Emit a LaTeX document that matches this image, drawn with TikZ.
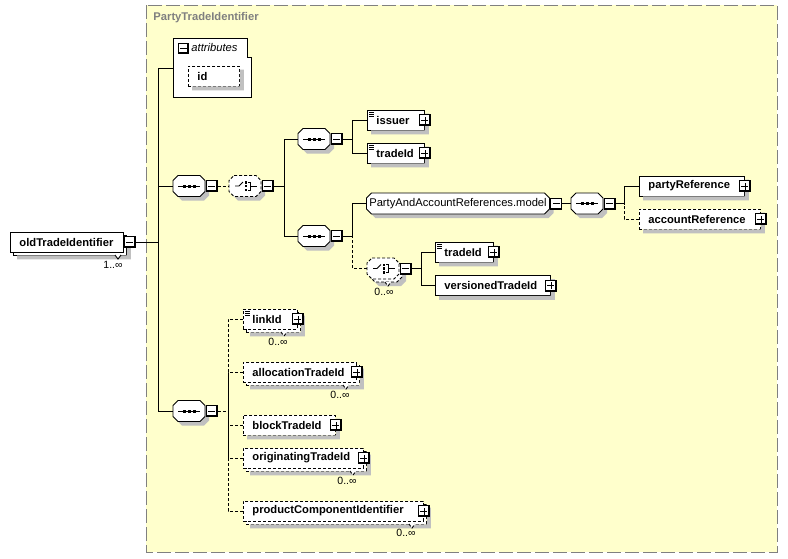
\documentclass[tikz,border=0pt]{standalone}
\usepackage{fontspec}
\setmainfont{Liberation Sans}
\usetikzlibrary{positioning,calc}

\definecolor{typefill}{RGB}{255,255,204}
\definecolor{typeline}{RGB}{128,128,128}
\definecolor{shadowgray}{RGB}{192,192,192}

\begin{document}
\begin{tikzpicture}[
    x=1pt, y=-1pt,
    line width=0.9pt,
    font=\fontsize{11.2}{13}\selectfont,
    opt/.style={dash pattern=on 3pt off 2pt},
    shadowfill/.style={fill=shadowgray},
    backcopy/.style={preaction={draw, fill=white, transform canvas={shift={(3pt,-3pt)}}}},
    elem/.style={draw, fill=white, anchor=west, font=\fontsize{11.2}{13}\selectfont\bfseries,
        minimum height=20pt, inner xsep=9pt, inner ysep=0pt, align=left},
    single/.style={elem},
    multi/.style={elem, backcopy},
    texticon/.style={path picture={
        \draw[solid, line width=0.7pt] ([shift={(2pt,-2.5pt)}]path picture bounding box.north west) -- ++(5pt,0pt);
        \draw[solid, line width=0.7pt] ([shift={(2pt,-4.5pt)}]path picture bounding box.north west) -- ++(5pt,0pt);
        \draw[solid, line width=0.7pt] ([shift={(2pt,-6.5pt)}]path picture bounding box.north west) -- ++(5pt,0pt);}},
    pmbox/.style={draw, fill=white, minimum size=11pt, inner sep=0pt, line width=0.8pt},
    plusbox/.style={pmbox, path picture={
        \draw[line width=2.4pt] (path picture bounding box.north east) -- (path picture bounding box.south east) -- (path picture bounding box.south west);
        \draw[line width=0.8pt] ([xshift=-3.5pt]path picture bounding box.center) -- ++(7pt,0pt);
        \draw[line width=0.8pt] ([yshift=-3.5pt]path picture bounding box.center) -- ++(0pt,7pt);}},
    minusbox/.style={pmbox, path picture={
        \draw[line width=2.4pt] (path picture bounding box.north east) -- (path picture bounding box.south east) -- (path picture bounding box.south west);
        \draw[line width=0.8pt] ([xshift=-3.5pt]path picture bounding box.center) -- ++(7pt,0pt);}},
    pics/octo/.style={code={
        \path[pic actions] (-#1+5,-10.5) -- (#1-5,-10.5) -- (#1,-5.5) -- (#1,5.5) -- (#1-5,10.5)
            -- (-#1+5,10.5) -- (-#1,5.5) -- (-#1,-5.5) -- cycle;}},
    pics/lshade/.style n args={3}{code={
        \path[fill=shadowgray, draw=none] ([shift={(#2,-#3)}]#1.north east) -- ([shift={(#3,-#3)}]#1.north east)
            -- ([shift={(#3,-#3)}]#1.south east) -- ([shift={(#3,-#3)}]#1.south west)
            -- ([shift={(#3,-#2)}]#1.south west) -- ([shift={(#2,-#2)}]#1.south east) -- cycle;}},
    compnode/.style={minimum width=32pt, minimum height=21pt, inner sep=0pt},
    seqsym/.style={compnode, path picture={
        \draw ([xshift=-11pt]path picture bounding box.center) -- ++(22pt,0pt);
        \fill[black] ([shift={(-6.5pt,-1.5pt)}]path picture bounding box.center) rectangle ++(3pt,3pt);
        \fill[black] ([shift={(-1.5pt,-1.5pt)}]path picture bounding box.center) rectangle ++(3pt,3pt);
        \fill[black] ([shift={(3.5pt,-1.5pt)}]path picture bounding box.center) rectangle ++(3pt,3pt);}},
    choicesym/.style={compnode, path picture={
        \draw ([xshift=-10pt]path picture bounding box.center) -- ++(4pt,0pt) -- ++(4pt,4pt);
        \fill[black] ([shift={(-0.5pt,2.5pt)}]path picture bounding box.center) rectangle ++(2.5pt,2.5pt);
        \fill[black] ([shift={(-0.5pt,-1.25pt)}]path picture bounding box.center) rectangle ++(2.5pt,2.5pt);
        \fill[black] ([shift={(-0.5pt,-5pt)}]path picture bounding box.center) rectangle ++(2.5pt,2.5pt);
        \draw ([shift={(3pt,4pt)}]path picture bounding box.center) -- ++(2.5pt,0pt) -- ++(0pt,-8pt) -- ++(-2.5pt,0pt);
        \draw ([xshift=5.5pt]path picture bounding box.center) -- ++(6pt,0pt);}},
    mult/.style={font=\fontsize{10.5}{12}\selectfont, inner sep=0pt}
]
\useasboundingbox (0,0) rectangle (788,558);

% Complex type area
\draw[fill=typefill, draw=typeline, dash pattern=on 14pt off 4pt] (146,5) rectangle (777,552);
\node (ptitle) [anchor=west, inner sep=0pt, text=typeline, font=\fontsize{11.2}{13}\selectfont\bfseries] at (153,18) {PartyTradeIdentifier};

% Root element
\node (oldTI) [multi, text width=95pt] at (10,242) {oldTradeIdentifier};
\pic {lshade={oldTI}{3pt}{7pt}};
\node (oldTI-m) [minusbox, right=0pt of oldTI] {};
\node (oldTI-n) [mult] at (113,265) {1..∞};
\draw[fill=white] (115,255) -- (118,259) -- (121,255);

% Attributes
\draw[fill=white] (173,38) -- (247,38) -- (247,57) -- (251,57) -- (251,97) -- (173,97) -- cycle;
\node (attr-m) [minusbox, minimum size=10pt] at (183.5,48) {};
\node (attr-t) [anchor=west, inner sep=0pt, font=\fontsize{11.2}{13}\selectfont\itshape] at (191,47) {attributes};
\node (id) [single, opt, text width=33pt] at (188,76) {id};
\pic {lshade={id}{0pt}{4pt}};
\coordinate (attr-in) at (173,68);

% Sequence and choice
\pic[shadowfill] at (193,190) {octo=16};
\pic[draw, fill=white] at (189,186) {octo=16};
\node (seqA) [seqsym] at (189,186) {};
\node (seqA-m) [minusbox, right=0.5pt of seqA] {};
\pic[shadowfill] at (249,190) {octo=16};
\pic[draw, fill=white, opt] at (245,186) {octo=16};
\node (choiceA) [choicesym] at (245,186) {};
\node (choiceA-m) [minusbox, right=0.5pt of choiceA] {};

% Issuer branch
\pic[shadowfill] at (318,143) {octo=16};
\pic[draw, fill=white] at (314,139) {octo=16};
\node (seqB) [seqsym] at (314,139) {};
\node (seqB-m) [minusbox, right=0.5pt of seqB] {};
\node (issuer) [single, texticon, text width=39pt] at (367,120) {issuer};
\pic {lshade={issuer}{0pt}{4pt}};
\node (issuer-p) [plusbox] at (issuer.east) {};
\node (tradeIdA) [single, texticon, text width=39pt] at (367,153) {tradeId};
\pic {lshade={tradeIdA}{0pt}{4pt}};
\node (tradeIdA-p) [plusbox] at (tradeIdA.east) {};

% Party reference branch
\pic[shadowfill] at (318,240) {octo=16};
\pic[draw, fill=white] at (314,236) {octo=16};
\node (seqC) [seqsym] at (314,236) {};
\node (seqC-m) [minusbox, right=0.5pt of seqC] {};
\pic[shadowfill] at (462,207.5) {octo=91.5};
\pic[draw, fill=white] at (458,203.5) {octo=91.5};
\node (pacRef) [compnode, minimum width=183pt] at (458,203.5) {PartyAndAccountReferences.model};
\node (pacRef-m) [minusbox, right=0.5pt of pacRef] {};
\pic[shadowfill] at (591,207.5) {octo=16};
\pic[draw, fill=white] at (587,203.5) {octo=16};
\node (seqD) [seqsym] at (587,203.5) {};
\node (seqD-m) [minusbox, right=0.5pt of seqD] {};
\node (partyRef) [single, text width=87pt] at (639,186) {partyReference};
\pic {lshade={partyRef}{0pt}{4pt}};
\node (partyRef-p) [plusbox] at (partyRef.east) {};
\node (accountRef) [single, opt, text width=103pt] at (639,219) {accountReference};
\pic {lshade={accountRef}{0pt}{4pt}};
\node (accountRef-p) [plusbox] at (accountRef.east) {};

% Trade id choice
\pic[shadowfill] at (390,275.5) {octo=16};
\pic[draw, fill=white, opt] at (386,271.5) {octo=16};
\pic[draw, fill=white, opt] at (383,268.5) {octo=16};
\node (choiceB) [choicesym] at (383,268.5) {};
\node (choiceB-m) [minusbox, right=0.5pt of choiceB] {};
\node (choiceB-n) [mult] at (384,292) {0..∞};
\draw[fill=white, opt] (385,282) -- (388,286) -- (391,282);
\node (tradeIdB) [single, texticon, text width=40pt] at (435,252) {tradeId};
\pic {lshade={tradeIdB}{0pt}{4pt}};
\node (tradeIdB-p) [plusbox] at (tradeIdB.east) {};
\node (versionedTI) [single, text width=97pt] at (435,285.5) {versionedTradeId};
\pic {lshade={versionedTI}{0pt}{4pt}};
\node (versionedTI-p) [plusbox] at (versionedTI.east) {};

% Optional identifiers
\pic[shadowfill] at (193,415) {octo=16};
\pic[draw, fill=white] at (189,411) {octo=16};
\node (seqE) [seqsym] at (189,411) {};
\node (seqE-m) [minusbox, right=0.5pt of seqE] {};
\node (linkId) [multi, opt, texticon, text width=36pt] at (243,319) {linkId};
\pic {lshade={linkId}{3pt}{7pt}};
\node (linkId-p) [plusbox] at (linkId.east) {};
\node (linkId-n) [mult] at (278,342) {0..∞};
\draw[fill=white, opt] (281,332) -- (284,336) -- (287,332);
\node (allocTI) [multi, opt, text width=95pt] at (243,372) {allocationTradeId};
\pic {lshade={allocTI}{3pt}{7pt}};
\node (allocTI-p) [plusbox] at (allocTI.east) {};
\node (allocTI-n) [mult] at (340,395) {0..∞};
\draw[fill=white, opt] (343,385) -- (346,389) -- (349,385);
\node (blockTI) [single, opt, text width=74pt] at (243,425) {blockTradeId};
\pic {lshade={blockTI}{0pt}{4pt}};
\node (blockTI-p) [plusbox] at (blockTI.east) {};
\node (origTI) [multi, opt, text width=102pt] at (243,458) {originatingTradeId};
\pic {lshade={origTI}{3pt}{7pt}};
\node (origTI-p) [plusbox] at (origTI.east) {};
\node (origTI-n) [mult] at (347,481) {0..∞};
\draw[fill=white, opt] (350,471) -- (353,475) -- (356,471);
\node (prodCI) [multi, opt, text width=162pt] at (243,511) {productComponentIdentifier};
\pic {lshade={prodCI}{3pt}{7pt}};
\node (prodCI-p) [plusbox] at (prodCI.east) {};
\node (prodCI-n) [mult] at (406,533) {0..∞};
\draw[fill=white, opt] (409,524) -- (412,528) -- (415,524);

% Connectors
\coordinate (trunk) at (158,242);
\draw (oldTI-m.east) -- (trunk);
\draw (attr-in) -| (trunk);
\draw (seqA.west) -| (trunk);
\draw (seqE.west) -| (trunk);
\draw[opt] (seqA-m.east) -- (choiceA.west);

\coordinate (forkB) at (284,186);
\draw (choiceA-m.east) -- (forkB);
\draw (seqB.west) -| (forkB);
\draw (seqC.west) -| (forkB);

\coordinate (forkC) at (352,139);
\draw (seqB-m.east) -- (forkC);
\draw (issuer.west) -| (forkC);
\draw (tradeIdA.west) -| (forkC);

\coordinate (forkD) at (352,236);
\draw (seqC-m.east) -- (forkD);
\draw (pacRef.west) -| (forkD);
\draw[opt] (choiceB.west) -| (forkD);
\draw (pacRef-m.east) -- (seqD.west);

\coordinate (forkE) at (624,203.5);
\draw (seqD-m.east) -- (forkE);
\draw (partyRef.west) -| (forkE);
\draw[opt] (accountRef.west) -| (forkE);

\coordinate (forkF) at (421,268.5);
\draw (choiceB-m.east) -- (forkF);
\draw (tradeIdB.west) -| (forkF);
\draw (versionedTI.west) -| (forkF);

\coordinate (forkG) at (228,411);
\draw[opt] (seqE-m.east) -- (forkG);
\draw[opt] (linkId.west) -| (forkG);
\draw[opt] (allocTI.west) -| (forkG);
\draw[opt] (blockTI.west) -| (forkG);
\draw[opt] (origTI.west) -| (forkG);
\draw[opt] (prodCI.west) -| (forkG);

\end{tikzpicture}
\end{document}
